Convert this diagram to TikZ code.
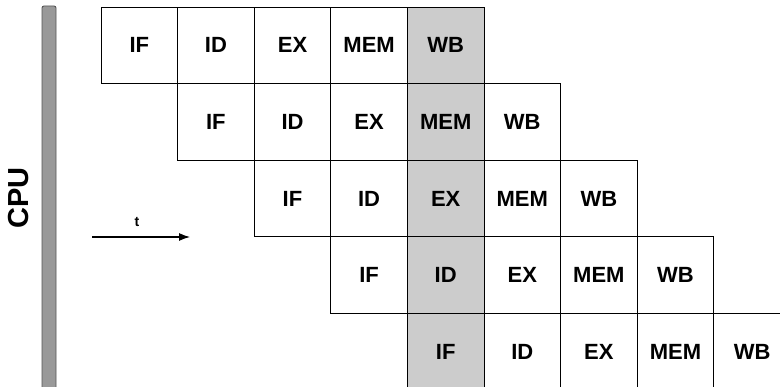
\documentclass[tikz,border=0pt]{standalone}
\usepackage{fontspec}
\setmainfont{Liberation Sans}
\usetikzlibrary{arrows.meta}
\definecolor{hilite}{HTML}{CCCCCC}
\definecolor{barfill}{HTML}{999999}
\definecolor{barline}{HTML}{555555}
\tikzset{
  cell/.style={draw=black, line width=0.9pt, minimum width=76.6pt, minimum height=76.6pt, inner sep=0pt, font=\fontsize{22}{24}\selectfont\bfseries, text=black},
  hot/.style={cell, fill=hilite},
  cpubar/.style={draw=barline, fill=barfill, line width=0.9pt, rounded corners=2pt},
  cpulabel/.style={font=\fontsize{29}{32}\selectfont\bfseries, rotate=90},
  timearrow/.style={-{Latex[length=11pt,width=8pt]}, line width=1.2pt},
  tlabel/.style={font=\fontsize{14}{16}\selectfont\bfseries}
}
\begin{document}
\begin{tikzpicture}[x=1pt,y=-1pt]
\useasboundingbox (0,0) rectangle (780,387);
% CPU bar
\draw[cpubar] (42,6) rectangle (56,395);
\node[cpulabel] (cpu) at (19,198) {CPU};
% time arrow
\coordinate (ta) at (92,237);
\coordinate (tb) at (190,237);
\draw[timearrow] (ta) -- (tb);
\node[tlabel] (t) at (137,222) {t};
% pipeline cells
\foreach \r in {1,...,5}{
  \foreach \k/\lab in {1/IF,2/ID,3/EX,4/MEM,5/WB}{
    \pgfmathtruncatemacro{\s}{\r+\k}
    \pgfmathsetmacro{\cx}{101+(\r+\k-2)*76.6+38.3}
    \pgfmathsetmacro{\cy}{7+(\r-1)*76.6+38.3}
    \ifnum\s=6
      \node[hot] (c-\r-\k) at (\cx,\cy) {\lab};
    \else
      \node[cell] (c-\r-\k) at (\cx,\cy) {\lab};
    \fi
  }
}
\end{tikzpicture}
\end{document}
